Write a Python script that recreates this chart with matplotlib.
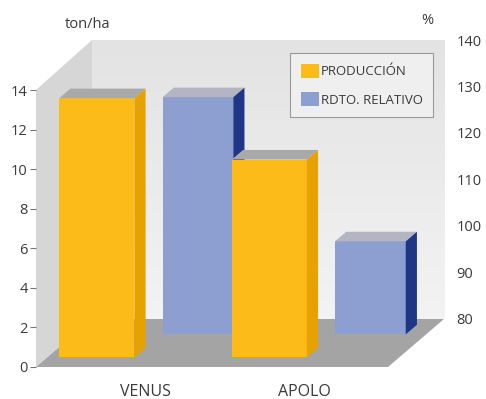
import matplotlib
matplotlib.use('Agg')
import matplotlib.pyplot as plt
from matplotlib.patches import Polygon, Patch
from matplotlib.transforms import Affine2D, IdentityTransform
from matplotlib.colors import LinearSegmentedColormap
import numpy as np

# ---- data ----
categories = ['VENUS', 'APOLO']
produccion = [13.1, 10.0]        # ton/ha (left axis)
rdto_relativo = [131, 100]       # % (right axis)
left_ticks = [0, 2, 4, 6, 8, 10, 12, 14]
right_ticks = [80, 90, 100, 110, 120, 130, 140]
legend_labels = ['PRODUCCIÓN', 'RDTO. RELATIVO']
left_unit = 'ton/ha'
right_unit = '%'

# ---- style ----
plt.rcParams['font.family'] = ['Open Sans', 'DejaVu Sans']
TXT = '#3a3a3a'
Y_FRONT, Y_SIDE, Y_TOP = '#FDBB1A', '#E6A200', '#A9A9A9'
B_FRONT, B_SIDE, B_TOP = '#8D9ED1', '#1F3585', '#B3B6C2'
SIDEWALL, FLOOR = '#d6d6d6', '#a4a4a4'

W, H, DPI = 486, 399, 100
fig = plt.figure(figsize=(W / DPI, H / DPI), dpi=DPI)
fig.patch.set_facecolor('white')


def rect(x0, y0, x1, y1):
    return [x0 / W, 1 - y1 / H, (x1 - x0) / W, (y1 - y0) / H]


x = np.arange(len(categories))
xlim = (-0.498, 1.543)

# back plane (right axis) and front plane (left axis)
ax2 = fig.add_axes(rect(92, 40, 444, 319))
ax = fig.add_axes(rect(36, 90, 388, 367))

for s in ax2.spines.values():
    s.set_visible(False)
wall_cmap = LinearSegmentedColormap.from_list('wall', ['#f3f3f3', '#e3e3e3'])
ax2.imshow(np.linspace(0, 1, 64).reshape(-1, 1), cmap=wall_cmap, aspect='auto',
           origin='lower', extent=(*xlim, 80, 140), zorder=0)
ax2.set_xlim(*xlim)
ax2.set_ylim(80, 140)
ax2.set_xticks([])
ax2.yaxis.tick_right()
ax2.set_yticks(right_ticks)
ax2.tick_params(axis='y', length=0, pad=9, labelsize=10.5, labelcolor=TXT)

ax.set_facecolor('none')
for s in ax.spines.values():
    s.set_visible(False)
ax.set_xlim(*xlim)
ax.set_ylim(0, 14)
ax.set_yticks(left_ticks)
ax.tick_params(axis='y', length=4, width=0.8, color='#777777', pad=2,
               labelsize=10.5, labelcolor=TXT)
ax.set_xticks(x + np.array([0.134, 0.061]), categories)
ax.tick_params(axis='x', length=0, pad=12, labelsize=11.5, labelcolor=TXT)

# depth vector (display px) between front and back planes
o_front = ax.transAxes.transform((0, 0))
o_back = ax2.transAxes.transform((0, 0))
D = o_back - o_front


def disp(a, pt):
    return a.transAxes.transform(pt)


side_wall = [disp(ax, (0, 0)), disp(ax, (0, 1)), disp(ax2, (0, 1)), disp(ax2, (0, 0))]
floor = [disp(ax, (0, 0)), disp(ax, (1, 0)), disp(ax2, (1, 0)), disp(ax2, (0, 0))]
for poly, c in ((side_wall, SIDEWALL), (floor, FLOOR)):
    ax.add_patch(Polygon(poly, closed=True, transform=IdentityTransform(),
                         fc=c, ec='none', zorder=1, clip_on=False))


def bar3d(xpos, base, vals, width, trans, f0, thick, cf, cs, ct, z):
    T = trans + Affine2D().translate(*(D * f0))
    vals = np.asarray(vals, dtype=float)
    bars = ax.bar(xpos, vals - base, width, bottom=base, color=cf,
                  transform=T, zorder=z, clip_on=False, linewidth=0)
    d = D * thick
    for r in bars:
        x0, y0 = r.get_x(), r.get_y()
        x1, y1 = x0 + r.get_width(), y0 + r.get_height()
        p = T.transform([(x0, y0), (x1, y0), (x1, y1), (x0, y1)])
        top = [p[3], p[2], p[2] + d, p[3] + d]
        side = [p[1], p[2], p[2] + d, p[1] + d]
        ax.add_patch(Polygon(top, closed=True, transform=IdentityTransform(),
                             fc=ct, ec='none', zorder=z, clip_on=False))
        ax.add_patch(Polygon(side, closed=True, transform=IdentityTransform(),
                             fc=cs, ec='none', zorder=z, clip_on=False))


# back row: relative yield (right-axis scale), front row: production
bar3d(x + 0.22, 80, rdto_relativo, 0.41, ax2.transData + Affine2D().translate(*(-D)),
      0.68, 0.2, B_FRONT, B_SIDE, B_TOP, 2)
bar3d(x - 0.21, 0, produccion, 0.435, ax.transData,
      0.2, 0.2, Y_FRONT, Y_SIDE, Y_TOP, 3)

# legend
handles = [Patch(fc=Y_FRONT, ec='none'), Patch(fc=B_FRONT, ec='none')]
leg = fig.legend(handles, legend_labels, loc='upper right',
                 bbox_to_anchor=(433 / W, 1 - 53 / H), frameon=True,
                 fancybox=False, edgecolor='#9a9a9a', facecolor='#efefef',
                 framealpha=1, fontsize=9.5, handlelength=1.35, handleheight=1.3,
                 handletextpad=0.15, labelspacing=1.05, borderpad=0.8,
                 borderaxespad=0)
leg.get_frame().set_linewidth(0.8)
for t in leg.get_texts():
    t.set_color(TXT)

fig.text(65 / W, 1 - 25 / H, left_unit, ha='left', va='center', fontsize=10.5, color=TXT)
fig.text(427 / W, 1 - 21 / H, right_unit, ha='center', va='center', fontsize=10.5, color=TXT)

fig.savefig('out.png', dpi=DPI)
